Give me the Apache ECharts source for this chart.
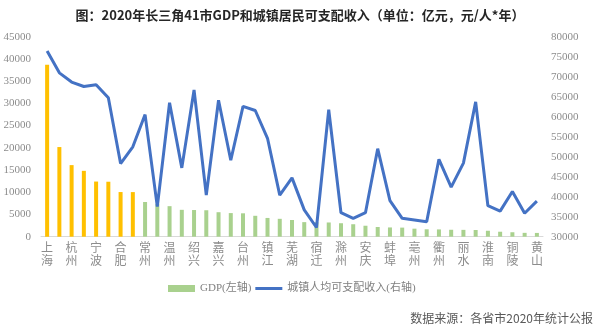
<!DOCTYPE html>
<html><head><meta charset="utf-8">
<script src="https://cdn.jsdelivr.net/npm/echarts@6/dist/echarts.min.js"></script>
<style>html,body{margin:0;padding:0;background:#fff}#c{width:600px;height:332px}</style>
</head><body><div id="c"></div>
<script>
const cities = ['上海','苏州','杭州','南京','宁波','无锡','合肥','南通','常州','徐州','温州','扬州','绍兴','盐城','嘉兴','泰州','台州','金华','镇江','淮安','芜湖','连云港','宿迁','湖州','滁州','阜阳','安庆','马鞍山','蚌埠','宿州','亳州','六安','衢州','宣城','丽水','舟山','淮南','淮北','铜陵','池州','黄山'];
const gdp = [38700,20170,16106,14818,12409,12370,10046,10036,7805,7319,6871,6048,6001,5953,5510,5313,5263,4704,4220,4025,3753,3277,3262,3201,3032,2805,2468,2187,2083,2045,1806,1669,1639,1561,1540,1512,1337,1119,1004,868,850];
const income = [76437,70966,68666,67553,68008,64714,48283,52484,60529,37523,63481,47202,66693,40400,64124,49103,62598,61545,54600,40400,44700,36700,32300,61743,36000,34600,36000,52000,39000,34600,34200,33750,49350,42400,48400,63702,37750,36400,41300,35850,38900];
const yellowCount = 8;
const seriesNames = ['GDP(左轴)','城镇人均可支配收入(右轴)'];

const serif = '"Liberation Serif","Noto Sans CJK SC",serif';
const chart = echarts.init(document.getElementById('c'), null, {renderer:'canvas'});
chart.setOption({
  animation:false,
  backgroundColor:'#fff',
  title:{text:'图：2020年长三角41市GDP和城镇居民可支配收入（单位：亿元，元/人*年）',left:'center',top:4,
    textStyle:{fontSize:13,fontWeight:'bold',color:'#262626',fontFamily:'"Noto Sans CJK SC",sans-serif'}},
  graphic:[{type:'text',right:7,top:312,style:{text:'数据来源：各省市2020年统计公报',fill:'#595959',fontSize:12,fontFamily:'"Noto Sans CJK SC",sans-serif'}}],
  legend:{bottom:33,left:163,itemWidth:27,itemHeight:7,itemGap:4,symbolKeepAspect:true,
    textStyle:{fontSize:11,color:'#808080',fontFamily:serif},
    data:[{name:seriesNames[0],icon:'rect'},{name:seriesNames[1],icon:'path://M0 0H27V3H0Z'}]},
  grid:{left:41,right:57,top:36.7,bottom:95.3,containLabel:false},
  xAxis:{type:'category',data:cities,boundaryGap:true,
    axisLine:{lineStyle:{color:'#d9d9d9'}},axisTick:{show:false},
    axisLabel:{interval:1,fontSize:12,color:'#8c8c8c',lineHeight:13,margin:6,fontFamily:serif,
      formatter:v=>v.split('').join('\n')}},
  yAxis:[
    {type:'value',min:0,max:45000,interval:5000,splitLine:{show:false},axisLine:{show:false},axisTick:{show:false},
     axisLabel:{fontSize:11,color:'#8c8c8c',fontFamily:serif,margin:10,formatter:v=>String(v)}},
    {type:'value',min:30000,max:80000,interval:5000,splitLine:{show:false},axisLine:{show:false},axisTick:{show:false},
     axisLabel:{fontSize:11,color:'#8c8c8c',fontFamily:serif,margin:8,formatter:v=>String(v)}}
  ],
  series:[
    {name:seriesNames[0],type:'bar',yAxisIndex:0,barWidth:4,itemStyle:{color:'#A9D18E'},
     data:gdp.map((v,i)=>i<yellowCount?{value:v,itemStyle:{color:'#FFC000'}}:v)},
    {name:seriesNames[1],type:'line',yAxisIndex:1,symbol:'none',lineStyle:{color:'#4472C4',width:3},itemStyle:{color:'#4472C4'},
     data:income}
  ]
});
</script></body></html>
